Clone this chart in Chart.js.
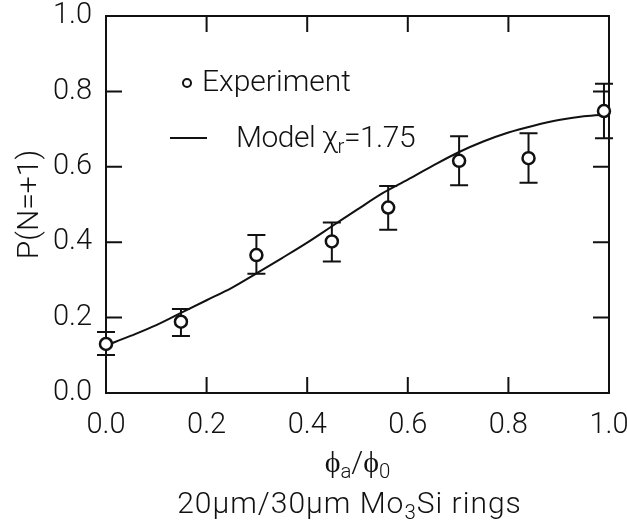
<!DOCTYPE html>
<html>
<head>
<meta charset="utf-8">
<script src="https://cdn.jsdelivr.net/npm/chart.js@4.4.1/dist/chart.umd.min.js"></script>
<style>
  html, body { margin: 0; padding: 0; background: #fff; }
  #wrap { width: 627px; height: 531px; position: relative; }
</style>
</head>
<body>
<div id="wrap"><canvas id="c"></canvas></div>
<script>
  // measured points with error bar ends
  const xExp = [0.0, 0.149, 0.299, 0.449, 0.561, 0.702, 0.840, 0.990];
  const yExp = [0.130, 0.189, 0.366, 0.402, 0.492, 0.616, 0.623, 0.748];
  const yExpHi = [0.162, 0.223, 0.419, 0.452, 0.549, 0.681, 0.689, 0.820];
  const yExpLo = [0.101, 0.151, 0.316, 0.349, 0.433, 0.551, 0.558, 0.676];

  // model curve
  const xModel = [0, 0.05, 0.10, 0.15, 0.20, 0.25, 0.30, 0.35, 0.40, 0.45, 0.50,
                  0.55, 0.60, 0.65, 0.70, 0.75, 0.80, 0.85, 0.90, 0.95, 1.0];
  const yModel = [0.126, 0.152, 0.180, 0.213, 0.246, 0.279, 0.318, 0.358, 0.399, 0.443, 0.487,
                  0.530, 0.566, 0.603, 0.638, 0.667, 0.691, 0.709, 0.724, 0.734, 0.739];

  const xTickVals = [0, 0.2, 0.4, 0.6, 0.8, 1.0];
  const yTickVals = [0, 0.2, 0.4, 0.6, 0.8, 1.0];

  const INK = '#111';
  const FONT = 'Roboto';
  const TICK = 16;

  function richText(ctx, segs, x, y, align, size, spacing) {
    ctx.letterSpacing = (spacing || 0) + 'px';
    const parts = segs.map(s => {
      const fs = s.sub ? size * 0.68 : size;
      ctx.font = '300 ' + fs + 'px ' + FONT;
      return { t: s.t, fs, dy: s.sub ? size * 0.3 : 0, w: ctx.measureText(s.t).width };
    });
    const total = parts.reduce((a, p) => a + p.w, 0);
    let cx = align === 'center' ? x - total / 2 : x;
    ctx.textAlign = 'left';
    ctx.textBaseline = 'middle';
    parts.forEach(p => {
      ctx.font = '300 ' + p.fs + 'px ' + FONT;
      ctx.fillText(p.t, cx, y + p.dy);
      cx += p.w;
    });
    ctx.letterSpacing = '0px';
  }

  function noPad(s) {
    s.paddingTop = 0; s.paddingBottom = 0; s.paddingLeft = 0; s.paddingRight = 0;
  }

  const frame = {
    id: 'frame',
    beforeDatasetsDraw(chart) {
      const { ctx, chartArea: a, scales: { x, y } } = chart;
      ctx.save();
      ctx.strokeStyle = INK;
      ctx.lineWidth = 2;
      ctx.strokeRect(a.left, a.top, a.right - a.left, a.bottom - a.top);
      ctx.beginPath();
      xTickVals.forEach(v => {
        const px = x.getPixelForValue(v);
        if (px <= a.left + 1 || px >= a.right - 1) return;
        ctx.moveTo(px, a.bottom); ctx.lineTo(px, a.bottom - TICK);
        ctx.moveTo(px, a.top); ctx.lineTo(px, a.top + TICK);
      });
      yTickVals.forEach(v => {
        const py = y.getPixelForValue(v);
        if (py <= a.top + 1 || py >= a.bottom - 1) return;
        ctx.moveTo(a.left, py); ctx.lineTo(a.left + TICK, py);
        ctx.moveTo(a.right, py); ctx.lineTo(a.right - TICK, py);
      });
      ctx.stroke();

      // error bars
      ctx.beginPath();
      xExp.forEach((xv, i) => {
        const px = x.getPixelForValue(xv);
        const hi = y.getPixelForValue(yExpHi[i]);
        const lo = y.getPixelForValue(yExpLo[i]);
        ctx.moveTo(px, hi); ctx.lineTo(px, lo);
        ctx.moveTo(px - 9, hi); ctx.lineTo(px + 9, hi);
        ctx.moveTo(px - 9, lo); ctx.lineTo(px + 9, lo);
      });
      ctx.stroke();
      ctx.restore();
    },
    afterDraw(chart) {
      const { ctx, chartArea: a } = chart;
      ctx.save();
      ctx.fillStyle = INK;
      ctx.strokeStyle = INK;

      // legend
      ctx.lineWidth = 2;
      ctx.beginPath();
      ctx.arc(187, 83, 4, 0, Math.PI * 2);
      ctx.stroke();
      richText(ctx, [{ t: 'Experiment' }], 202, 83, 'left', 30);
      ctx.beginPath();
      ctx.moveTo(170, 138); ctx.lineTo(207, 138);
      ctx.stroke();
      richText(ctx, [{ t: 'Model \u03c7' }, { t: 'r', sub: true }, { t: '=1.75' }], 236, 139, 'left', 30, -0.5);

      // axis titles
      const cx = (a.left + a.right) / 2;
      richText(ctx, [{ t: '\u03d5' }, { t: 'a', sub: true }, { t: '/\u03d5' }, { t: '0', sub: true }], cx, 464, 'center', 30);
      richText(ctx, [{ t: '20\u03bcm/30\u03bcm Mo' }, { t: '3', sub: true }, { t: 'Si rings' }], cx - 8, 505, 'center', 30, 1);

      ctx.translate(30, (a.top + a.bottom) / 2);
      ctx.rotate(-Math.PI / 2);
      richText(ctx, [{ t: 'P(N=+1)' }], 0, 0, 'center', 30);
      ctx.restore();
    }
  };

  const tickFont = { family: FONT, size: 29, weight: '300' };

  new Chart(document.getElementById('c'), {
    type: 'scatter',
    data: {
      datasets: [
        {
          label: 'Experiment',
          data: xExp.map((v, i) => ({ x: v, y: yExp[i] })),
          pointStyle: 'circle',
          pointRadius: 6,
          pointBorderWidth: 2.5,
          borderColor: INK,
          backgroundColor: '#fff',
          clip: false,
          order: 0
        },
        {
          label: 'Model',
          data: xModel.map((v, i) => ({ x: v, y: yModel[i] })),
          showLine: true,
          pointRadius: 0,
          borderColor: INK,
          borderWidth: 2,
          cubicInterpolationMode: 'monotone',
          clip: false,
          order: 1
        }
      ]
    },
    options: {
      responsive: true,
      maintainAspectRatio: false,
      animation: false,
      layout: { padding: { top: 16, right: 18, left: 0, bottom: 0 } },
      plugins: { legend: { display: false }, tooltip: { enabled: false } },
      scales: {
        x: {
          type: 'linear', min: 0, max: 1,
          grid: { display: false, drawTicks: false },
          border: { display: false },
          afterFit: s => { s.height = 138; noPad(s); },
          afterBuildTicks: s => { s.ticks = xTickVals.map(v => ({ value: v })); },
          ticks: { color: INK, font: tickFont, padding: 15, maxRotation: 0, callback: v => v.toFixed(1) }
        },
        y: {
          type: 'linear', min: 0, max: 1,
          grid: { display: false, drawTicks: false },
          border: { display: false },
          afterFit: s => { s.width = 106; noPad(s); },
          afterBuildTicks: s => { s.ticks = yTickVals.map(v => ({ value: v })); },
          ticks: { color: INK, font: tickFont, padding: 14, callback: v => v.toFixed(1) }
        }
      }
    },
    plugins: [frame]
  });
</script>
</body>
</html>
